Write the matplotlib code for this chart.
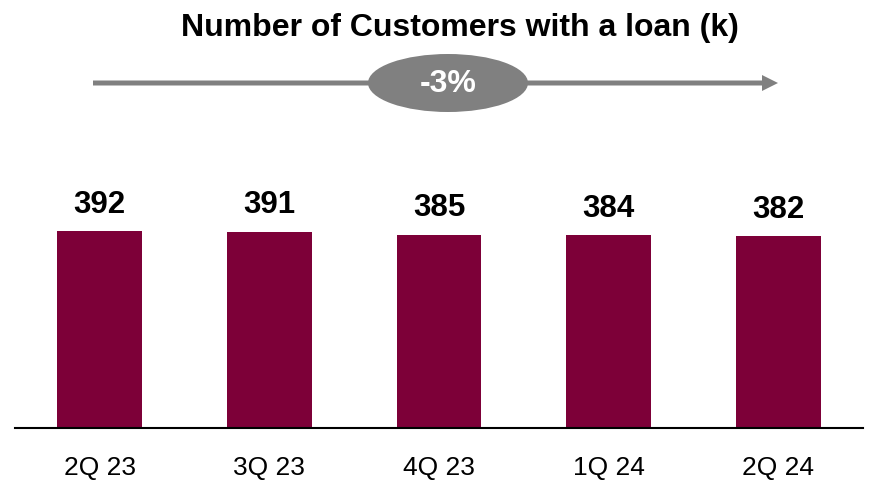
import matplotlib
matplotlib.use("Agg")
import matplotlib.pyplot as plt
from matplotlib.patches import Ellipse, FancyArrow

plt.rcParams['font.family'] = ['Liberation Sans', 'DejaVu Sans']

quarters = ["2Q 23", "3Q 23", "4Q 23", "1Q 24", "2Q 24"]
customers_k = [392, 391, 385, 384, 382]
title = "Number of Customers with a loan (k)"
change_label = "-3%"

bar_color = "#7D0038"
grey = "#808080"

W, H = 871, 484
fig = plt.figure(figsize=(W / 100, H / 100), dpi=100)

# main bar axes: baseline at y=428px, spanning x=15..863px
left, right, base = 15, 863, 428
ymax = 500
px_per_unit = 197 / 392
ax_h = ymax * px_per_unit
ax = fig.add_axes([left / W, (H - base) / H, (right - left) / W, ax_h / H])

x = range(len(quarters))
ax.bar(x, customers_k, width=0.5, color=bar_color, zorder=2)
ax.set_xlim(-0.5, len(quarters) - 0.5)
ax.set_ylim(0, ymax)

for xi, v in zip(x, customers_k):
    ax.annotate(f"{v}", (xi, v), xytext=(0, 13), textcoords="offset points",
                ha="center", va="baseline", fontsize=22.5, fontweight="bold",
                color="black")

ax.set_xticks(list(x))
ax.set_xticklabels(quarters, fontsize=19)
ax.tick_params(axis="x", length=0, pad=20)
ax.set_yticks([])
for s in ["top", "left", "right"]:
    ax.spines[s].set_visible(False)
ax.spines["bottom"].set_linewidth(1.5)
ax.spines["bottom"].set_color("black")

# overlay in pixel coordinates for title and the trend arrow
ov = fig.add_axes([0, 0, 1, 1], zorder=5)
ov.set_xlim(0, W)
ov.set_ylim(H, 0)
ov.axis("off")

ov.text(460, 28, title, ha="center", va="center", fontsize=23,
        fontweight="bold", color="black")

ov.add_patch(FancyArrow(93, 83, 685, 0, width=5, head_width=16,
                        head_length=16, length_includes_head=True,
                        color=grey, lw=0))
ov.add_patch(Ellipse((448, 83), 160, 58, color=grey, lw=0, zorder=3))
ov.text(448, 84, change_label, ha="center", va="center", fontsize=23,
        fontweight="bold", color="white", zorder=4)

fig.savefig("out.png", dpi=100)
